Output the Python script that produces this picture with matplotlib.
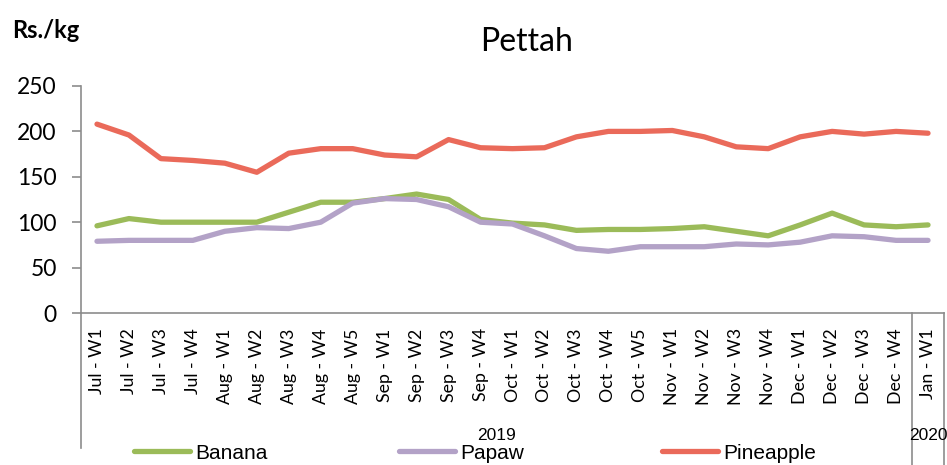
import numpy as np
import matplotlib
matplotlib.use("Agg")
import matplotlib.pyplot as plt
from matplotlib.lines import Line2D
from matplotlib import transforms

# datos
semanas = ["Jul - W1", "Jul - W2", "Jul - W3", "Jul - W4",
           "Aug - W1", "Aug - W2", "Aug - W3", "Aug - W4", "Aug - W5",
           "Sep - W1", "Sep - W2", "Sep - W3", "Sep - W4",
           "Oct - W1", "Oct - W2", "Oct - W3", "Oct - W4", "Oct - W5",
           "Nov - W1", "Nov - W2", "Nov - W3", "Nov - W4",
           "Dec - W1", "Dec - W2", "Dec - W3", "Dec - W4",
           "Jan - W1"]
anios = ["2019", "2020"]
n_2019 = 26

banana = [96, 104, 100, 100, 100, 100, 111, 122, 122, 126, 131, 125, 103,
          99, 97, 91, 92, 92, 93, 95, 90, 85, 97, 110, 97, 95, 97]
papaw = [79, 80, 80, 80, 90, 94, 93, 100, 121, 126, 125, 117, 100,
         98, 85, 71, 68, 73, 73, 73, 76, 75, 78, 85, 84, 80, 80]
pina = [208, 196, 170, 168, 165, 155, 176, 181, 181, 174, 172, 191, 182,
        181, 182, 194, 200, 200, 201, 194, 183, 181, 194, 200, 197, 200, 198]

verde = "#9BBB59"
lila = "#B3A2C7"
rojo = "#EA6A5A"
gris = "#8C8C8C"

fuente = ["Lato", "DejaVu Sans"]
angosta = ["Liberation Sans", "DejaVu Sans"]

fig = plt.figure(figsize=(9.47, 4.65), dpi=100)
ax = fig.add_axes([81 / 947, 152 / 465, 863 / 947, 227 / 465])

xs = np.arange(len(semanas))
ax.plot(xs, banana, color=verde, lw=3.8, solid_capstyle="round")
ax.plot(xs, papaw, color=lila, lw=3.8, solid_capstyle="round")
ax.plot(xs, pina, color=rojo, lw=3.8, solid_capstyle="round")

ax.set_xlim(-0.5, len(semanas) - 0.5)
ax.set_ylim(0, 250)
ax.set_yticks(np.arange(0, 251, 50))
ax.set_xticks(xs)
ax.set_xticklabels(semanas, rotation=90, family=fuente, fontsize=12.8)
ax.tick_params(axis="x", length=0, pad=11)
ax.tick_params(axis="y", length=6.5, color=gris, width=1.2, pad=11, labelsize=16.5)
for t in ax.get_yticklabels():
    t.set_family(fuente)

for lado in ["top", "right"]:
    ax.spines[lado].set_visible(False)
for lado in ["left", "bottom"]:
    ax.spines[lado].set_color(gris)
    ax.spines[lado].set_linewidth(1.2)

# separadores de las categorias de años
tr = transforms.blended_transform_factory(ax.transData, fig.transFigure)
ax.plot([-0.5, -0.5], [152 / 465, 17 / 465], transform=tr, color=gris, lw=1.2, clip_on=False)
ax.plot([n_2019 - 0.5, n_2019 - 0.5], [152 / 465, 0], transform=tr, color=gris, lw=1.2, clip_on=False)
ax.plot([len(semanas) - 0.5, len(semanas) - 0.5], [152 / 465, 0], transform=tr, color=gris, lw=1.2, clip_on=False)

ax.text((n_2019 - 1) / 2, 25 / 465, anios[0], transform=tr, ha="center", va="baseline",
        family=angosta, fontsize=12.5)
ax.text(len(semanas) - 1, 25 / 465, anios[1], transform=tr, ha="center", va="baseline",
        family=angosta, fontsize=12.5)

fig.text(527 / 947, 414 / 465, "Pettah", ha="center", va="baseline", family=fuente, fontsize=23)
fig.text(12 / 947, 427 / 465, "Rs./kg", ha="left", va="baseline", family=fuente,
         fontsize=17, weight="bold")

# leyenda: una entrada por serie, en su sitio
nombres = ["Banana", "Papaw", "Pineapple"]
posiciones = [134, 399, 662]
for nombre, color, px in zip(nombres, (verde, lila, rojo), posiciones):
    h = Line2D([], [], color=color, lw=3.8, solid_capstyle="round")
    ley = fig.legend([h], [nombre], loc="center left",
                     bbox_to_anchor=(px / 947, 12 / 465), frameon=False,
                     prop={"family": angosta, "size": 15}, handlelength=2.7,
                     handletextpad=0.25, borderpad=0, borderaxespad=0)

fig.savefig("out.png", dpi=100)
